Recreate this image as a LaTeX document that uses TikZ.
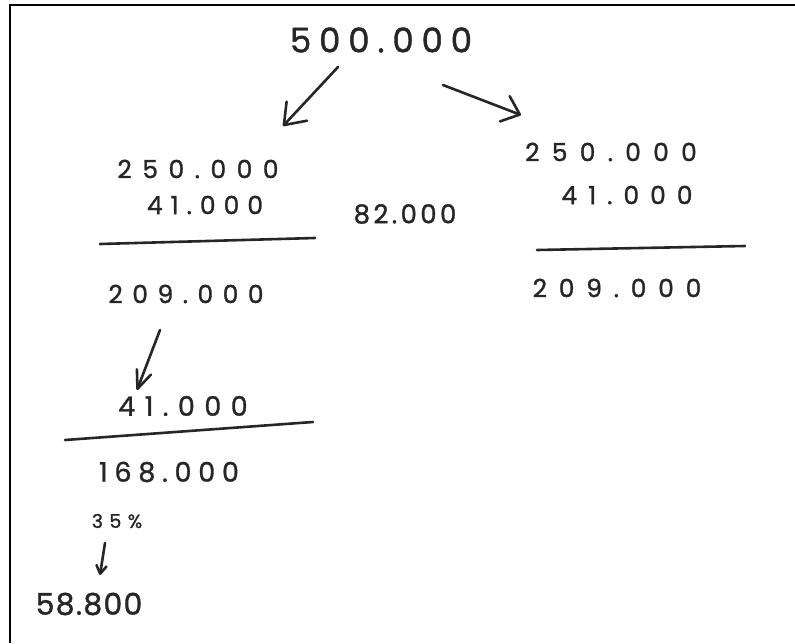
\documentclass[tikz,border=0pt]{standalone}
\usepackage{fontspec}
\setmainfont{Poppins}
\newfontfamily\hand[FakeBold=1.2]{Poppins}
\usetikzlibrary{arrows.meta}
\definecolor{inkc}{HTML}{262626}
\tikzset{
  ink/.style={draw=inkc, line width=2.6pt, line cap=round, line join=round},
  num/.style 2 args={text=inkc, inner sep=0pt, font=\hand\addfontfeature{LetterSpace=#2}\fontsize{#1}{#1}\selectfont},
  barb/.style={-{Straight Barb[#1, round]}},
}
\begin{document}
\begin{tikzpicture}[x=1pt, y=-1pt]
\useasboundingbox (0,0) rectangle (795,643);
% frame
\coordinate (fb) at (10,643);
\coordinate (fc) at (10,5);
\coordinate (fr) at (795,5);
\draw[line width=2.5pt, black] (fb) -- (fc) -- (fr);

% numbers
\node[num={34}{23}] (top) at (381,40) {500.000};
\node[num={25}{42}] (l250) at (198,169) {250.000};
\node[num={25}{32}] (l41) at (205,205) {41.000};
\node[num={26}{13}] (sum) at (405,214) {82.000};
\node[num={25}{38}] (l209) at (186,294) {209.000};
\node[num={25}{49}] (r250) at (611,152) {250.000};
\node[num={25}{44}] (r41) at (627,195) {41.000};
\node[num={25}{47}] (r209) at (617,288) {209.000};
\node[num={27}{35}] (l41b) at (183,406) {41.000};
\node[num={27}{25}] (l168) at (169,472) {168.000};
\node[num={19}{34}] (pct) at (117,521) {35\%};
\node[num={30}{4}] (res) at (89,604) {58.800};

% rules
\coordinate (ra1) at (100,244); \coordinate (ra2) at (315,238);
\coordinate (rb1) at (537,250); \coordinate (rb2) at (745,246);
\coordinate (rc1) at (65,440);  \coordinate (rc2) at (313,422);
\draw[ink] (ra1) -- (ra2);
\draw[ink] (rb1) -- (rb2);
\draw[ink] (rc1) -- (rc2);

% arrows
\coordinate (a1s) at (338,67);  \coordinate (a1e) at (283,126);
\coordinate (a2s) at (443,85);  \coordinate (a2e) at (521,115);
\coordinate (a3s) at (160,330); \coordinate (a3e) at (137,390);
\coordinate (a4s) at (105,543); \coordinate (a4e) at (100,575);
\draw[ink, barb={length=19pt, width=28pt}] (a1s) -- (a1e);
\draw[ink, barb={length=16pt, width=27pt}] (a2s) -- (a2e);
\draw[ink, barb={length=18pt, width=15pt}] (a3s) -- (a3e);
\draw[ink, barb={length=8pt, width=10pt}] (a4s) -- (a4e);
\end{tikzpicture}
\end{document}
